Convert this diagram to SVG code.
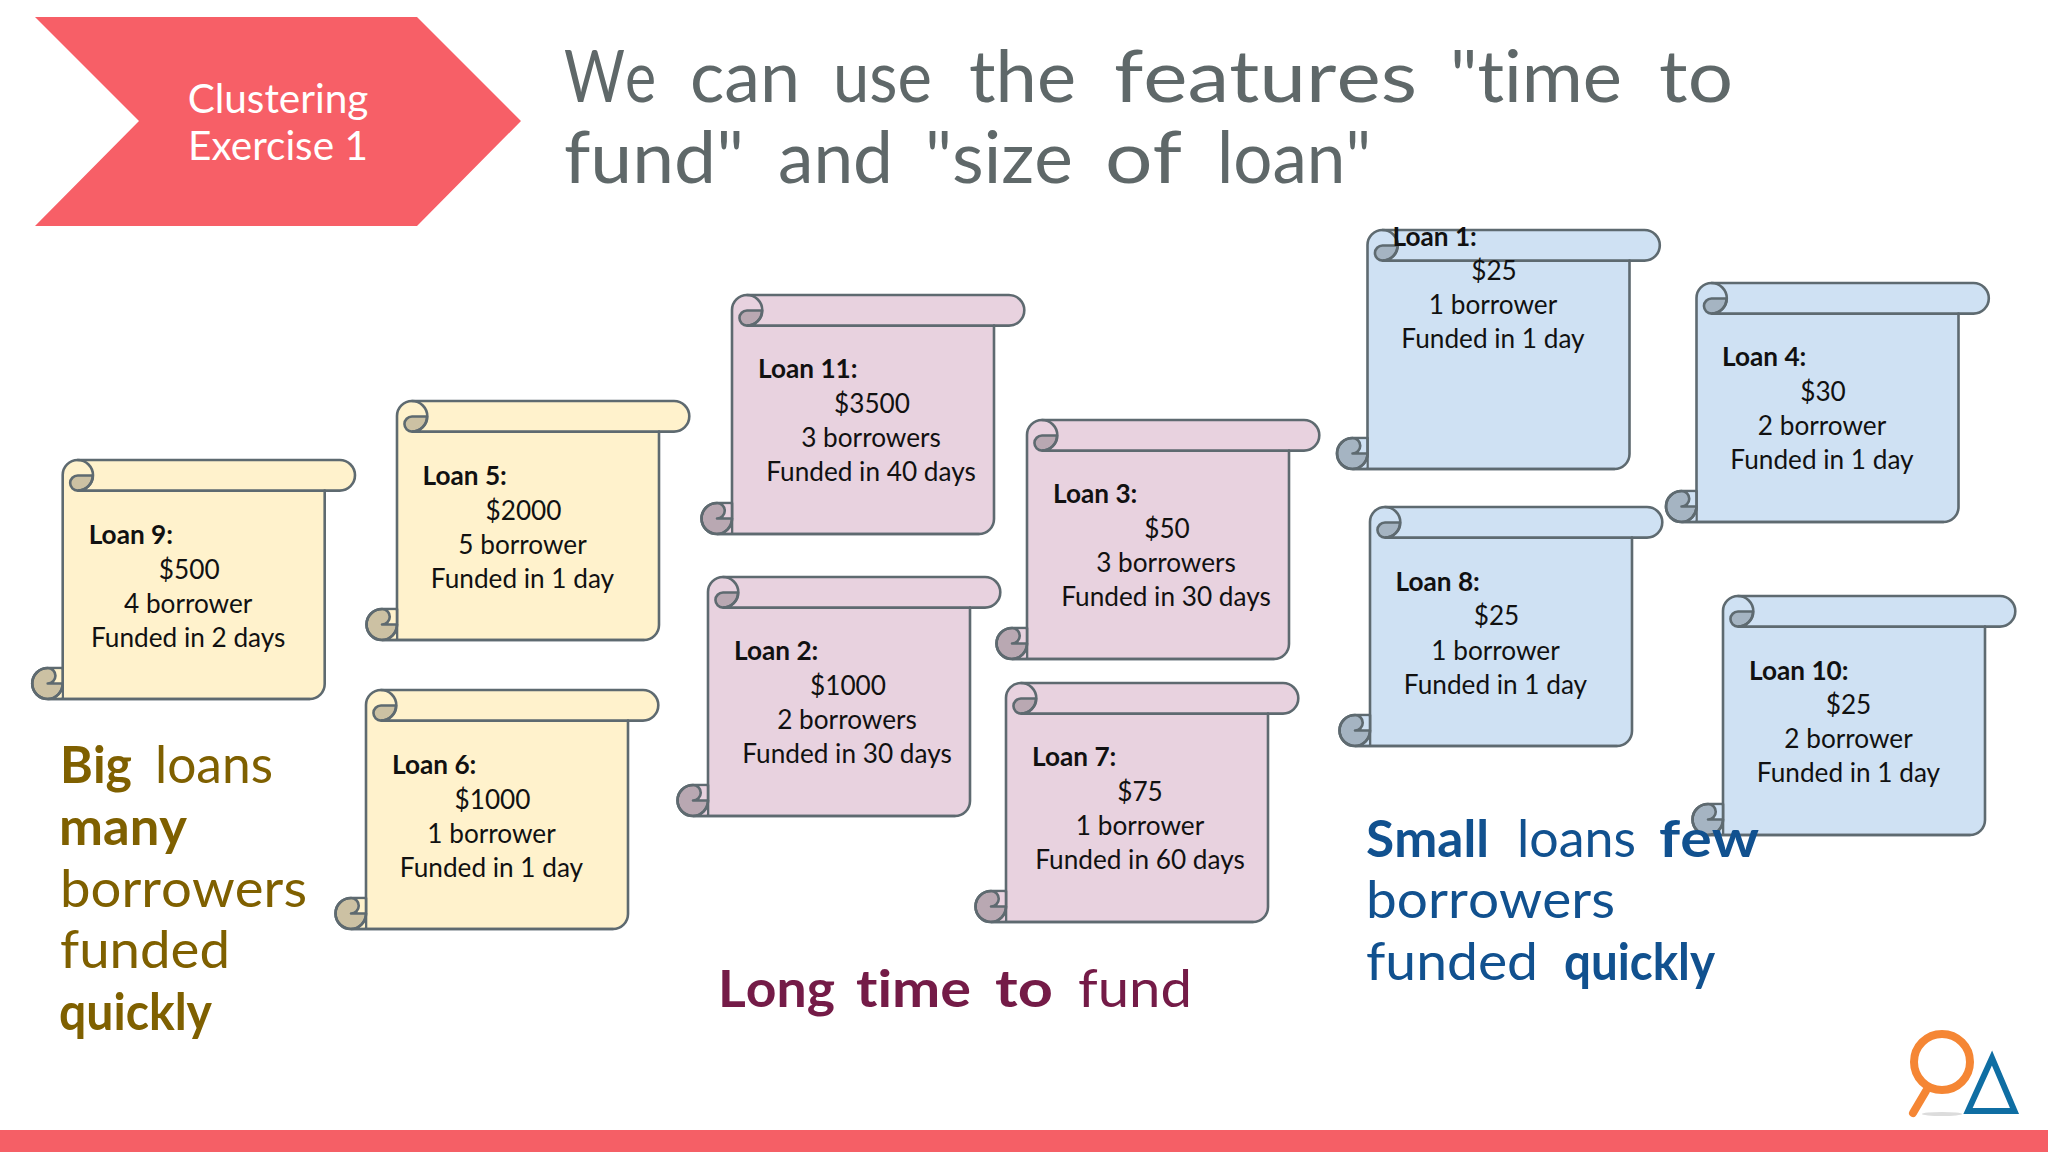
<svg xmlns="http://www.w3.org/2000/svg" xmlns:xlink="http://www.w3.org/1999/xlink" width="2048" height="1152" viewBox="0 0 2048 1152">
<style>
text{font-family:"Lato","Open Sans",sans-serif}
.card text{font-size:26.200px;fill:#111}
.card .h{font-weight:700}
.card .c{text-anchor:middle}
.y{fill:#fff2cc}.p{fill:#e8d2df}.bl{fill:#cfe1f3}
.ol{stroke:#5e6a70;stroke-width:2.6;stroke-linejoin:round;stroke-linecap:round}
.sh{fill:#000;fill-opacity:.2;stroke:#5e6a70;stroke-width:2.6;stroke-linejoin:round}
.ln{fill:none;stroke:#5e6a70;stroke-width:2.6;stroke-linecap:round}
.hand{font-size:72px;fill:#5f6869;font-variant-ligatures:none;font-kerning:none}
.note{font-size:52px;font-variant-ligatures:none;font-kerning:none}
.b{font-weight:700}
</style>
<defs>
<g id="scroll">
<path class="ol" d="M0 208V15A15 15 0 0 1 15 0H277A15.300 15.300 0 0 1 277 30.600H262V224A15 15 0 0 1 247 239H-15A15.500 15.500 0 0 1 -15 208H0V239H-15"/>
<path d="M-1 209.500H-15V237.500H-1Z" fill="inherit"/>
<path class="sh" d="M15 30.600A7.500 7.500 0 0 1 15 15.500H30A15 15 0 0 1 15 30.600Z"/>
<path class="sh" d="M-15 239A15.500 15.500 0 0 1 -15 208A7.500 7.500 0 0 1 -15 223.500H0A15.500 15.500 0 0 1 -15 239Z"/>
<path class="ln" d="M15 0A15.300 15.300 0 0 1 15 30.600H262M0 208V223.500M0 223.500A15.500 15.500 0 0 1 -15 239H247"/>
</g>
</defs>
<rect width="2048" height="1152" fill="#fff"/>
<g id="banner">
<polygon points="35,17 417,17 521,121 417,226 35,226 139,121" fill="#f75f67"/>
<text x="278" y="113" text-anchor="middle" font-size="40.500" fill="#fff">Clustering</text>
<text x="278" y="160" text-anchor="middle" font-size="40.500" fill="#fff">Exercise 1</text>
</g>
<g id="title" class="hand">
<text y="102"><tspan x="564" textLength="92" lengthAdjust="spacingAndGlyphs">We</tspan><tspan x="690" textLength="110" lengthAdjust="spacingAndGlyphs">can</tspan><tspan x="833" textLength="99" lengthAdjust="spacingAndGlyphs">use</tspan><tspan x="969" textLength="107" lengthAdjust="spacingAndGlyphs">the</tspan><tspan x="1114" textLength="303" lengthAdjust="spacingAndGlyphs">features</tspan><tspan x="1450" textLength="172" lengthAdjust="spacingAndGlyphs">"time</tspan><tspan x="1659" textLength="74" lengthAdjust="spacingAndGlyphs">to</tspan></text>
<text y="183"><tspan x="564" textLength="180" lengthAdjust="spacingAndGlyphs">fund"</tspan><tspan x="778" textLength="115" lengthAdjust="spacingAndGlyphs">and</tspan><tspan x="925" textLength="148" lengthAdjust="spacingAndGlyphs">"size</tspan><tspan x="1105" textLength="77" lengthAdjust="spacingAndGlyphs">of</tspan><tspan x="1217" textLength="154" lengthAdjust="spacingAndGlyphs">loan"</tspan></text>
</g>

<g id="loan-9" class="card" transform="translate(62.700 460)"><use href="#scroll" class="y"/><text class="h" x="26" y="84">Loan 9:</text><text class="c" x="126.500" y="119">$500</text><text class="c" x="125.500" y="153">4 borrower</text><text class="c" x="125.500" y="187">Funded in 2 days</text></g>
<g id="loan-5" class="card" transform="translate(397 401)"><use href="#scroll" class="y"/><text class="h" x="25.500" y="84">Loan 5:</text><text class="c" x="126.500" y="119">$2000</text><text class="c" x="125.500" y="153">5 borrower</text><text class="c" x="125.500" y="187">Funded in 1 day</text></g>
<g id="loan-6" class="card" transform="translate(366 690)"><use href="#scroll" class="y"/><text class="h" x="26" y="84">Loan 6:</text><text class="c" x="126.500" y="119">$1000</text><text class="c" x="125.500" y="153">1 borrower</text><text class="c" x="125.500" y="187">Funded in 1 day</text></g>

<g id="loan-11" class="card" transform="translate(732 295)"><use href="#scroll" class="p"/><text class="h" x="26" y="83">Loan 11:</text><text class="c" x="140" y="118">$3500</text><text class="c" x="139" y="152">3 borrowers</text><text class="c" x="139" y="186">Funded in 40 days</text></g>
<g id="loan-2" class="card" transform="translate(708 577)"><use href="#scroll" class="p"/><text class="h" x="26" y="83">Loan 2:</text><text class="c" x="140" y="118">$1000</text><text class="c" x="139" y="152">2 borrowers</text><text class="c" x="139" y="186">Funded in 30 days</text></g>
<g id="loan-3" class="card" transform="translate(1027 420)"><use href="#scroll" class="p"/><text class="h" x="26" y="83">Loan 3:</text><text class="c" x="140" y="118">$50</text><text class="c" x="139" y="152">3 borrowers</text><text class="c" x="139" y="186">Funded in 30 days</text></g>
<g id="loan-7" class="card" transform="translate(1006 683)"><use href="#scroll" class="p"/><text class="h" x="26" y="83">Loan 7:</text><text class="c" x="134" y="118">$75</text><text class="c" x="134" y="152">1 borrower</text><text class="c" x="134" y="186">Funded in 60 days</text></g>

<g id="loan-1" class="card" transform="translate(1367.500 230)"><use href="#scroll" class="bl"/><text class="h" x="25" y="16">Loan 1:</text><text class="c" x="126.500" y="50">$25</text><text class="c" x="125.500" y="84">1 borrower</text><text class="c" x="125.500" y="118">Funded in 1 day</text></g>
<g id="loan-8" class="card" transform="translate(1370 507)"><use href="#scroll" class="bl"/><text class="h" x="25.500" y="84">Loan 8:</text><text class="c" x="126.500" y="118">$25</text><text class="c" x="125.500" y="153">1 borrower</text><text class="c" x="125.500" y="187">Funded in 1 day</text></g>
<g id="loan-4" class="card" transform="translate(1696.500 283)"><use href="#scroll" class="bl"/><text class="h" x="25.500" y="83">Loan 4:</text><text class="c" x="126.500" y="118">$30</text><text class="c" x="125.500" y="152">2 borrower</text><text class="c" x="125.500" y="186">Funded in 1 day</text></g>
<g id="loan-10" class="card" transform="translate(1723 596)"><use href="#scroll" class="bl"/><text class="h" x="26" y="84">Loan 10:</text><text class="c" x="125.500" y="118">$25</text><text class="c" x="125.500" y="152">2 borrower</text><text class="c" x="125.500" y="186">Funded in 1 day</text></g>

<g id="note-big" class="note" fill="#7f6000">
<text y="783"><tspan class="b" x="60" textLength="72" lengthAdjust="spacingAndGlyphs">Big</tspan><tspan x="155" textLength="118" lengthAdjust="spacingAndGlyphs">loans</tspan></text>
<text y="845" class="b" x="59" textLength="128" lengthAdjust="spacingAndGlyphs">many</text>
<text y="907" x="60" textLength="247" lengthAdjust="spacingAndGlyphs">borrowers</text>
<text y="968" x="60" textLength="170" lengthAdjust="spacingAndGlyphs">funded</text>
<text y="1030" class="b" x="59" textLength="153" lengthAdjust="spacingAndGlyphs">quickly</text>
</g>
<g id="note-long" class="note" fill="#741b47">
<text y="1007"><tspan class="b" x="718" textLength="117" lengthAdjust="spacingAndGlyphs">Long</tspan><tspan class="b" x="856" textLength="115" lengthAdjust="spacingAndGlyphs">time</tspan><tspan class="b" x="995" textLength="58" lengthAdjust="spacingAndGlyphs">to</tspan><tspan x="1078" textLength="114" lengthAdjust="spacingAndGlyphs">fund</tspan></text>
</g>
<g id="note-small" class="note" fill="#11518f">
<text y="857"><tspan class="b" x="1366" textLength="123" lengthAdjust="spacingAndGlyphs">Small</tspan><tspan x="1517" textLength="119" lengthAdjust="spacingAndGlyphs">loans</tspan><tspan class="b" x="1659" textLength="100" lengthAdjust="spacingAndGlyphs">few</tspan></text>
<text y="918" x="1366" textLength="249" lengthAdjust="spacingAndGlyphs">borrowers</text>
<text y="980"><tspan x="1366" textLength="172" lengthAdjust="spacingAndGlyphs">funded</tspan><tspan class="b" x="1564" textLength="151" lengthAdjust="spacingAndGlyphs">quickly</tspan></text>
</g>
<g id="logo">
<ellipse cx="1942" cy="1114" rx="20" ry="2" fill="#dcdcdc"/>
<path d="M1926 1091L1913 1113" stroke="#f58634" stroke-width="8" stroke-linecap="round" fill="none"/>
<circle cx="1942" cy="1062" r="28" fill="none" stroke="#f58634" stroke-width="8"/>
<path d="M1968 1111L1992 1058L2014.500 1111Z" fill="none" stroke="#0f6ea3" stroke-width="6"/>
</g>
<rect id="footer" y="1130" width="2048" height="22" fill="#f55f66"/>
</svg>
